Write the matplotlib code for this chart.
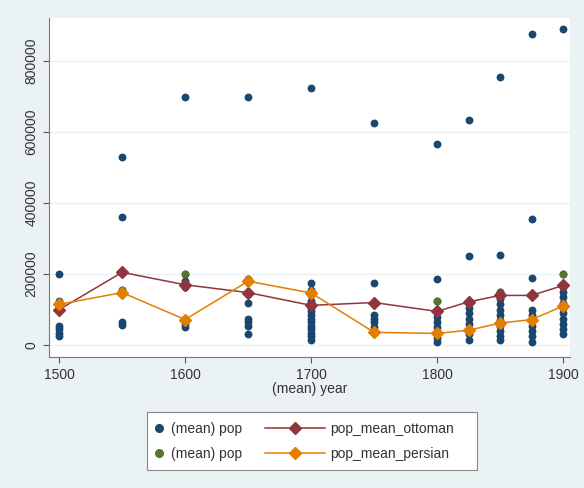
import numpy as np
import matplotlib
matplotlib.use('Agg')
import matplotlib.pyplot as plt
from matplotlib.lines import Line2D
from matplotlib.patches import Rectangle

plt.rcParams['font.family'] = ['Liberation Sans', 'DejaVu Sans']

years = [1500, 1550, 1600, 1650, 1700, 1750, 1800, 1825, 1850, 1875, 1900]

# city populations per year, (mean) pop
pop_by_year = {
    1500: [200000, 125000, 115000, 100000, 55000, 45000, 35000, 25000],
    1550: [530000, 360000, 155000, 65000, 58000],
    1600: [700000, 200000, 180000, 165000, 75000, 60000, 50000],
    1650: [700000, 185000, 120000, 75000, 65000, 55000, 30000],
    1700: [725000, 175000, 155000, 140000, 125000, 105000, 95000, 85000,
           75000, 65000, 55000, 45000, 35000, 25000, 15000],
    1750: [625000, 175000, 120000, 85000, 75000, 65000, 50000, 40000],
    1800: [565000, 185000, 125000, 95000, 80000, 65000, 50000, 35000, 20000, 10000],
    1825: [635000, 250000, 120000, 105000, 90000, 75000, 60000, 45000, 30000, 15000],
    1850: [755000, 255000, 150000, 130000, 115000, 100000, 85000, 70000,
           55000, 40000, 25000, 15000],
    1875: [875000, 355000, 190000, 140000, 100000, 85000, 70000, 55000,
           40000, 25000, 10000],
    1900: [890000, 200000, 165000, 150000, 135000, 120000, 105000, 90000,
           75000, 60000, 45000, 30000],
}

green_years = [1500, 1550, 1600, 1800, 1850, 1900]
green_pop = [120000, 155000, 200000, 125000, 150000, 200000]

pop_mean_ottoman = [100000, 205000, 170000, 148000, 112000, 120000, 95000,
                    122000, 140000, 140000, 168000]
pop_mean_persian = [115000, 148000, 72000, 180000, 147000, 36000, 33000,
                    42000, 62000, 72000, 110000]

navy = '#1a476f'
maroon = '#90353b'
green = '#55752f'
orange = '#e37e00'
bg = '#eaf2f3'

pop_x = [y for y in years for v in pop_by_year[y]]
pop_y = [v for y in years for v in pop_by_year[y]]

fig = plt.figure(figsize=(5.84, 4.88), dpi=100, facecolor=bg)
ax = fig.add_axes([0.084, 0.268, 0.892, 0.695])
ax.set_facecolor('white')

ax.scatter(pop_x, pop_y, s=32, color=navy, zorder=3, linewidths=0)
ax.scatter(green_years, green_pop, s=32, color=green, zorder=3, linewidths=0)
ax.plot(years, pop_mean_ottoman, color=maroon, lw=1.1, marker='D', ms=6, zorder=4)
ax.plot(years, pop_mean_persian, color=orange, lw=1.1, marker='D', ms=6, zorder=4)

ax.set_xlim(1492, 1905.5)
ax.set_ylim(-34000, 921000)
ax.set_xticks([1500, 1600, 1700, 1800, 1900])
ax.set_yticks([0, 200000, 400000, 600000, 800000])
ax.set_yticklabels(['0', '200000', '400000', '600000', '800000'],
                   rotation=90, va='center')
ax.tick_params(colors='#555555', labelcolor='#333333', labelsize=10, length=4)
ax.grid(axis='y', color='#eaf2f3', lw=1)
ax.set_axisbelow(True)
for s in ['top', 'right']:
    ax.spines[s].set_visible(False)
for s in ['left', 'bottom']:
    ax.spines[s].set_color('#777777')
ax.set_xlabel('(mean) year', fontsize=10, color='#333333', labelpad=0)

# legend: frame plus two columns
fig.patches.append(Rectangle((0.252, 0.037), 0.565, 0.119, transform=fig.transFigure,
                             facecolor='white', edgecolor='#888888', lw=0.8, zorder=0))

h1 = [Line2D([], [], ls='none', marker='o', ms=5.5, color=navy),
      Line2D([], [], ls='none', marker='o', ms=5.5, color=green)]
h2 = [Line2D([], [], color=maroon, lw=1.1, marker='D', ms=6),
      Line2D([], [], color=orange, lw=1.1, marker='D', ms=6)]

leg1 = fig.legend(h1, ['(mean) pop', '(mean) pop'], loc='center left',
                  bbox_to_anchor=(0.262, 0.096), frameon=False, fontsize=10,
                  handlelength=0.8, handletextpad=0.5, labelspacing=0.8,
                  borderpad=0, borderaxespad=0)
leg2 = fig.legend(h2, ['pop_mean_ottoman', 'pop_mean_persian'], loc='center left',
                  bbox_to_anchor=(0.454, 0.096), frameon=False, fontsize=10,
                  handlelength=4.3, handletextpad=0.4, labelspacing=0.8,
                  borderpad=0, borderaxespad=0)
for leg in (leg1, leg2):
    for t in leg.get_texts():
        t.set_color('#333333')

fig.savefig('out.png', dpi=100, facecolor=bg)
